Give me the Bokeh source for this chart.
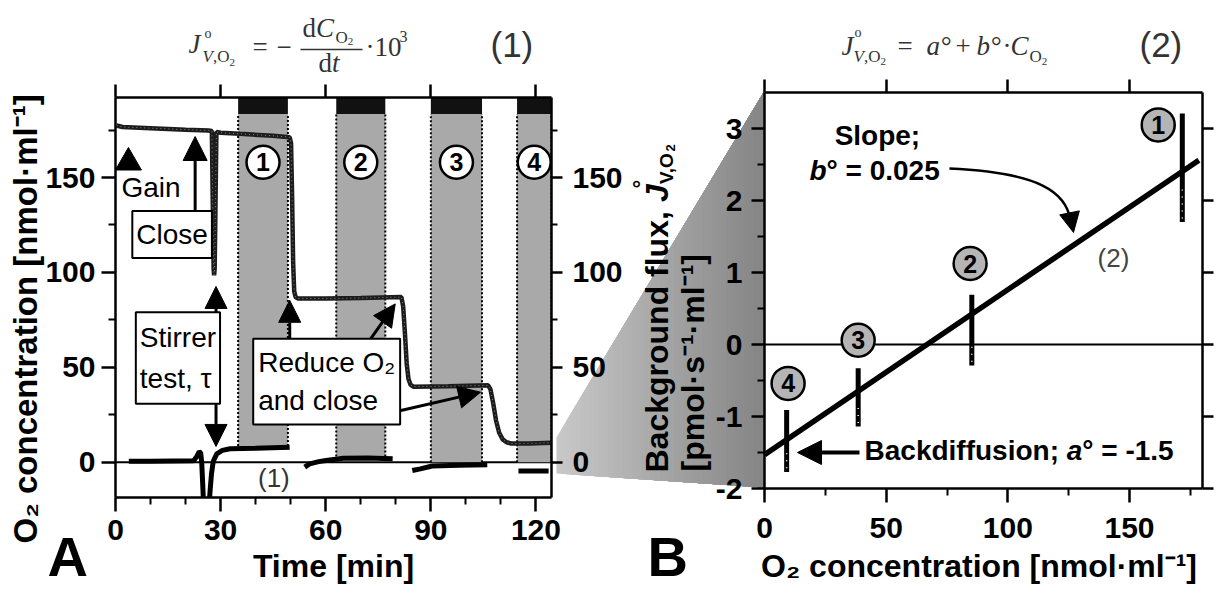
import math
import numpy as np
from bokeh.plotting import figure
from bokeh.models import (Range1d, LinearAxis, FixedTicker, CustomJSTickFormatter,
                          Label, Arrow, NormalHead, Span, Grid)
from bokeh.embed import file_html
from bokeh.resources import INLINE
from bokeh.core.properties import value

SANS = "Liberation Sans"
SERIF = "Liberation Serif"
NAN = float("nan")

# ---------------- Panel A data (time in min) ----------------
o2_time = [0.3, 2.0, 10.0, 20.0, 26.5, 27.5, 27.8, 28.0, 28.15, 28.3, 28.5, 28.8, 30.0, 35.5, 45.0,
           49.7, 50.1, 50.4, 50.7, 51.0, 51.4, 52.0, 60.0, 70.0, 81.6, 82.1, 82.6, 83.1, 83.6, 84.2,
           85.0, 95.0, 106.3, 107.0, 107.8, 108.6, 109.5, 110.5, 111.6, 113.0, 118.0, 124.4]
o2_conc = [177.4, 176.6, 176.0, 175.2, 174.8, 174.5, 130.0, 102.0, 98.5, 102.0, 130.0, 174.0, 173.6, 173.0, 172.0,
           171.2, 168.0, 140.0, 105.0, 90.0, 87.0, 86.3, 86.2, 86.5, 87.0, 82.0, 68.0, 52.0, 44.0, 40.8,
           39.8, 40.0, 40.5, 38.5, 31.0, 22.0, 15.5, 12.0, 10.5, 9.8, 9.9, 10.2]

flux_time = [3.8, 10.0, 22.3, 23.2, 23.9, 24.3, 24.6, 24.9, 25.2, 26.6, 27.0, 27.4, 27.9, 28.9, 30.5, 32.7, 40.0, 49.7,
             NAN, 54.0, 55.4, 58.0, 60.1, 65.0, 72.0, 79.1,
             NAN, 84.7, 87.0, 90.4, 98.0, 106.1,
             NAN, 115.0, 123.6]
flux_val = [0.5, 0.5, 0.8, 3.0, 5.5, 5.0, 0.0, -12.0, -25.0, -25.0, -15.0, -6.0, 0.5, 4.4, 6.2, 7.1, 7.3, 7.9,
            NAN, -2.6, -0.9, 0.3, 0.9, 2.1, 2.2, 1.8,
            NAN, -4.4, -3.5, -2.0, -1.6, -1.4,
            NAN, -4.6, -4.6]

band_start = [35.0, 63.0, 90.0, 114.6]
band_end = [49.2, 77.0, 104.6, 124.4]
band_floor = [8.5, 3.0, 0.0, 0.0]
band_names = ["1", "2", "3", "4"]

a_xticks = [0, 30, 60, 90, 120]
a_xminor = [10, 20, 40, 50, 70, 80, 100, 110]
a_yticks = [0, 50, 100, 150]
a_yminor = [25, 75, 125, 175]

# ---------------- Panel B data ----------------
clus_o2 = [171.7, 85.2, 38.5, 9.1]
clus_lo = [1.70, -0.29, -1.14, -1.77]
clus_hi = [3.21, 0.69, -0.33, -0.91]
clus_names = ["1", "2", "3", "4"]
circ_o2 = [161.8, 84.5, 38.5, 9.7]
circ_flux = [3.05, 1.125, 0.06, -0.54]
fit_o2 = [0.0, 178.5]
fit_flux = [-1.53, 2.56]

b_xticks = [0, 50, 100, 150]
b_xminor = [25, 75, 125, 175]
b_yticks = [-2, -1, 0, 1, 2, 3]
b_yminor = [-1.5, -0.5, 0.5, 1.5, 2.5]

# ---------------- layout ----------------
W, H = 1219, 589
W_A = 625
W_B = W - W_A
A_X = (0.0, 124.43)
A_Y = (-18.6, 192.15)
B_X = (0.0, 180.0)
B_Y = (-2.0, 3.5)
UP_A = (A_Y[1] - A_Y[0]) / 400.0   # data units per pixel (panel A)
UP_B = (B_Y[1] - B_Y[0]) / 396.0   # data units per pixel (panel B)
UP_D = -1.0                         # backdrop uses page pixels, y downward


def place(p, left):
    p.styles = {"position": "absolute", "left": f"{left}px", "top": "0px"}


def make_fig(w, xr, yr, bl, br, bt, bb):
    p = figure(width=w, height=H, x_range=Range1d(*xr), y_range=Range1d(*yr),
               output_backend="svg", toolbar_location=None,
               x_axis_location=None, y_axis_location=None,
               min_border_left=bl, min_border_right=br, min_border_top=bt, min_border_bottom=bb)
    p.center = [c for c in p.center if not isinstance(c, Grid)]
    p.outline_line_color = None
    p.background_fill_color = None
    p.border_fill_color = None
    return p


def add_axis(p, side, ticks, minor, out, minor_out, standoff, labels=True,
             label=None, label_size=30, label_standoff=0):
    ax = LinearAxis(ticker=FixedTicker(ticks=ticks, minor_ticks=minor))
    ax.axis_line_width = 2.5
    ax.axis_line_color = "black"
    ax.major_tick_line_width = 2.5
    ax.major_tick_line_color = "black"
    ax.minor_tick_line_width = 2
    ax.minor_tick_line_color = "black"
    ax.major_tick_in = 0
    ax.major_tick_out = out
    ax.minor_tick_in = 0
    ax.minor_tick_out = minor_out
    ax.major_label_text_font = SANS
    ax.major_label_text_font_style = "bold"
    ax.major_label_text_font_size = "30px"
    ax.major_label_text_color = "black"
    ax.major_label_standoff = standoff
    if labels:
        ax.formatter = CustomJSTickFormatter(code="return String(tick)")
    else:
        ax.formatter = CustomJSTickFormatter(code="return ''")
    if label:
        ax.axis_label = label
        ax.axis_label_text_font = SANS
        ax.axis_label_text_font_style = "bold"
        ax.axis_label_text_font_size = f"{label_size}px"
        ax.axis_label_text_color = "black"
        ax.axis_label_standoff = label_standoff
    p.add_layout(ax, side)


def lab(p, up, x, y, text, size, font=SANS, style="normal", color="black", align="left",
        baseline="alphabetic", angle=0.0, **kw):
    # y is the text baseline; the label is anchored at its middle
    if baseline == "alphabetic":
        y = y + 0.35 * size * up
        baseline = "middle"
    p.add_layout(Label(x=x, y=y, text=text, text_font=font, text_font_size=f"{size}px",
                       text_font_style=style, text_color=color, text_align=align,
                       text_baseline=baseline, angle=angle, **kw))


def arrow(p, x0, y0, x1, y1, size=22, lw=3):
    p.add_layout(Arrow(end=NormalHead(size=size, fill_color="black", line_color="black"),
                       x_start=x0, y_start=y0, x_end=x1, y_end=y1,
                       line_width=lw, line_color="black"))


# ================= backdrop (page-pixel coordinates, y downward) =================
D = figure(width=W, height=H, x_range=Range1d(0, W), y_range=Range1d(H, 0),
           output_backend="svg", toolbar_location=None,
           x_axis_location=None, y_axis_location=None, min_border=0,
           min_border_left=0, min_border_right=0, min_border_top=0, min_border_bottom=0)
D.center = [c for c in D.center if not isinstance(c, Grid)]
D.outline_line_color = None
D.background_fill_color = "white"
D.border_fill_color = "white"
place(D, 0)


# connecting wedge with a grey gradient (from panel A's flux region to panel B's y-axis)
def top_e(x):
    return 437 + (x - 556) * (92 - 437) / 207.0


def bot_e(x):
    return 473 + (x - 556) * (487 - 473) / 207.0


xs, ys, cols = [], [], []
xe = 763.5
for x0 in np.linspace(556, 763, 45):
    xs.append([x0, xe, xe, x0])
    ys.append([top_e(x0), top_e(xe), bot_e(xe), bot_e(x0)])
    g = int(round(200 - (x0 - 556) / 207.0 * (200 - 132)))
    cols.append("#%02x%02x%02x" % (g, g, g))
D.patches(xs, ys, fill_color=cols, line_color=None)

FC = "#333333"
# formula (1)
for t, x, y, s, st in [
    ("J", 188, 53, 27, "italic"), ("o", 204, 38, 14, "normal"),
    ("V", 202, 62, 17, "italic"), (",O", 212.4, 62, 17, "normal"),
    ("2", 228.9, 66, 11, "normal"), ("=", 252, 56, 27, "normal"),
    ("−", 276, 56, 27, "normal"), ("d", 302, 37, 27, "normal"),
    ("C", 315.5, 37, 27, "italic"), ("O", 335, 43, 17, "normal"),
    ("2", 347.3, 45, 11, "normal"), ("d", 318, 72, 27, "normal"),
    ("t", 331.5, 72, 27, "italic"), ("·10", 365, 56, 27, "normal"),
    ("3", 399, 42, 16, "normal")]:
    lab(D, UP_D, x, y, t, s, font=SERIF, style=st, color=FC)
D.segment(x0=[300], y0=[49], x1=[362], y1=[49], line_color=FC, line_width=1.5)
lab(D, UP_D, 490, 56, "(1)", 35, color=FC)

# formula (2)
for t, x, y, s, st in [
    ("J", 841, 55, 27, "italic"), ("o", 854, 37, 14, "normal"),
    ("V", 853, 62, 17, "italic"), (",O", 863.4, 62, 17, "normal"),
    ("2", 879.9, 65, 11, "normal"), ("=", 897, 55, 27, "normal"),
    ("a°", 926, 55, 27, "italic"), ("+", 955, 55, 27, "normal"),
    ("b°", 976, 55, 27, "italic"), ("·", 1002, 55, 27, "normal"),
    ("C", 1010, 55, 27, "italic"), ("O", 1029, 62, 17, "normal"),
    ("2", 1041.3, 65, 11, "normal")]:
    lab(D, UP_D, x, y, t, s, font=SERIF, style=st, color=FC)
lab(D, UP_D, 1139, 56, "(2)", 35, color=FC)

# panel A y-axis title and panel letters
R = math.pi / 2
lab(D, UP_D, 25, 543, "O₂ concentration  [nmol·ml⁻¹]", 33, style="bold", baseline="middle", angle=R)
lab(D, UP_D, 47, 576, "A", 56, style="bold")
lab(D, UP_D, 647, 576, "B", 56, style="bold")

# panel B y-axis title (rotated pieces)
lab(D, UP_D, 656, 472, "Background flux, ", 32, style="bold", baseline="middle", angle=R)
lab(D, UP_D, 656, 201.4, "J", 32, style="bold italic", baseline="middle", angle=R)
lab(D, UP_D, 641, 188, "°", 22, style="bold", baseline="middle", angle=R)
lab(D, UP_D, 666, 183.6, "V,O", 19, style="bold", baseline="middle", angle=R)
lab(D, UP_D, 670, 150.9, "2", 13, style="bold", baseline="middle", angle=R)
lab(D, UP_D, 692, 471, "[pmol·s⁻¹·ml⁻¹]", 32, style="bold", baseline="middle", angle=R)

# ================= Panel A =================
pa = make_fig(W_A, A_X, A_Y, 115, W_A - 553, 97, H - 497)
place(pa, 0)
add_axis(pa, "left", a_yticks, a_yminor, 14, 7, 6)
add_axis(pa, "right", a_yticks, a_yminor, 11, 6, 10)
add_axis(pa, "below", a_xticks, a_xminor, 14, 7, 8, label="Time [min]", label_size=32, label_standoff=5)
add_axis(pa, "above", a_xticks, [], 13, 0, 0, labels=False)

pa.add_layout(Span(location=0, dimension="width", line_color="black", line_width=2, level="underlay"))

hdr_lo = 183.5
band_mid = [(s + e) / 2 for s, e in zip(band_start, band_end)]
pa.quad(left=band_start, right=band_end, bottom=band_floor, top=[hdr_lo] * 4,
        fill_color="#a9a9a9", line_color=None)
pa.quad(left=band_start, right=band_end, bottom=[hdr_lo] * 4, top=[A_Y[1]] * 4,
        fill_color="#111111", line_color=None)
edges_x = band_start + band_end
edges_lo = band_floor + band_floor
pa.segment(x0=edges_x, y0=edges_lo, x1=edges_x, y1=[hdr_lo] * 8,
           line_color="black", line_width=2, line_dash="2 2")
o2_t = np.array(o2_time)
o2_c = np.array(o2_conc)
pa.line(o2_t, o2_c, line_color="#1c1c1c", line_width=4.5)
pa.line(o2_t, o2_c, line_color="#8a8a8a", line_width=1, line_dash="1 3")
pa.line(np.array(flux_time), np.array(flux_val), line_color="black", line_width=5)
pa.scatter(band_mid, [158] * 4, size=33, fill_color="white", line_color="black", line_width=2.5)
pa.text(band_mid, [158] * 4, text=band_names, text_font=value(SANS), text_font_style="bold",
        text_font_size="25px", text_align="center", text_baseline="middle")

# Gain marker + annotations (data units of panel A)
pa.scatter([3.69], [157.9], marker="triangle", size=26, color="black")
lab(pa, UP_A, 1.7, 139.5, "Gain", 28)
arrow(pa, 22.73, 130.0, 22.73, 171.6, size=24, lw=3)
lab(pa, UP_A, 4.8, 120.0, "Close", 28, baseline="middle", padding=(4, 8),
    background_fill_color="white", border_line_color="black", border_line_width=2)
arrow(pa, 28.69, 75.7, 28.69, 92.6, size=22, lw=3)
arrow(pa, 28.69, 34.1, 28.69, 8.3, size=22, lw=3)
lab(pa, UP_A, 5.8, 54.9, "Stirrer\ntest, τ", 28, baseline="middle", padding=(4, 10),
    background_fill_color="white", border_line_color="black", border_line_width=2,
    text_line_height=1.3)
arrow(pa, 49.72, 61.5, 49.72, 85.3, size=22, lw=3)
arrow(pa, 71.51, 61.5, 79.83, 83.4, size=22, lw=3)
arrow(pa, 81.45, 27.2, 104.18, 36.9, size=22, lw=3)
lab(pa, UP_A, 39.3, 42.5, "Reduce O₂\nand close", 28, baseline="middle", padding=(5, 8),
    background_fill_color="white", border_line_color="black", border_line_width=2,
    text_line_height=1.25)
lab(pa, UP_A, 45.2, -8.1, "(1)", 26, color="#333333", align="center", baseline="middle")

# ================= Panel B =================
pb = make_fig(W_B, B_X, B_Y, 764 - W_A, W - 1202, 92, H - 488)
place(pb, W_A)
add_axis(pb, "left", b_yticks, b_yminor, 13, 7, 9)
add_axis(pb, "right", b_yticks, [], 11, 0, 0, labels=False)
add_axis(pb, "below", b_xticks, b_xminor, 14, 7, 15,
         label="O₂ concentration  [nmol·ml⁻¹]", label_size=32, label_standoff=7)
add_axis(pb, "above", b_xticks, [], 13, 0, 0, labels=False)

pb.add_layout(Span(location=0, dimension="width", line_color="black", line_width=2, level="underlay"))
pb.line(fit_o2, fit_flux, line_color="black", line_width=5.5)
pb.segment(x0=clus_o2, y0=clus_lo, x1=clus_o2, y1=clus_hi, line_color="black", line_width=5)
pb.segment(x0=clus_o2, y0=[lo + 0.05 for lo in clus_lo],
           x1=clus_o2, y1=[lo + 0.35 * (hi - lo) for lo, hi in zip(clus_lo, clus_hi)],
           line_color="white", line_width=1.5, line_dash="1 6")
pb.scatter(circ_o2, circ_flux, size=33, fill_color="#b5b5b5", line_color="black", line_width=2.5)
pb.text(circ_o2, circ_flux, text=clus_names, text_font=value(SANS), text_font_style="bold",
        text_font_size="25px", text_align="center", text_baseline="middle")

lab(pb, UP_B, 46.4, 2.764, "Slope;", 28, style="bold", align="center")
lab(pb, UP_B, 18.5, 2.278, "b", 28, style="bold italic")
lab(pb, UP_B, 25.5, 2.278, "° = 0.025", 28, style="bold")
pb.bezier(x0=[76.0], y0=[2.444], x1=[125.75], y1=[1.722], cx0=[113.4], cy0=[2.389],
          cx1=[124.1], cy1=[2.111], line_color="black", line_width=2.5)
arrow(pb, 125.34, 1.833, 126.99, 1.556, size=20, lw=2.5)
lab(pb, UP_B, 143.4, 1.208, "(2)", 26, color="#444444", align="center", baseline="middle")
lab(pb, UP_B, 41.1, -1.611, "Backdiffusion;", 28, style="bold")
lab(pb, UP_B, 124.2, -1.611, "a", 28, style="bold italic")
lab(pb, UP_B, 130.6, -1.611, "° = -1.5", 28, style="bold")
arrow(pb, 39.04, -1.5, 13.56, -1.5, size=24, lw=4)

open("out.html", "w").write(file_html([D, pa, pb], INLINE))
